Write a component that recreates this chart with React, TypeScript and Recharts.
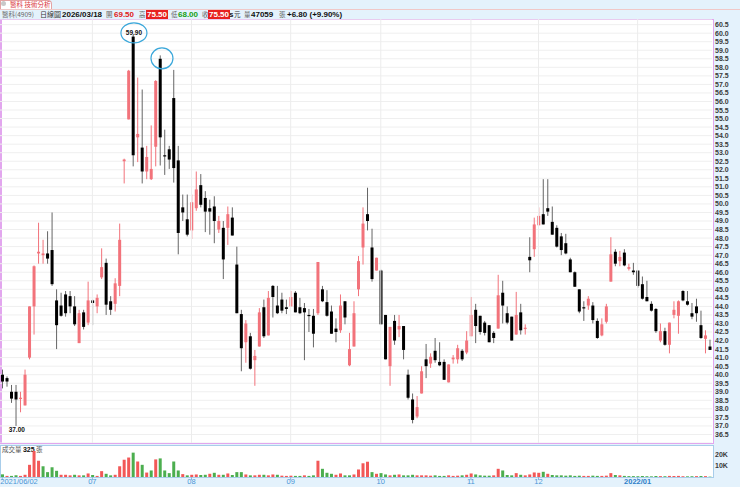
import React from 'react';
import {
  ComposedChart,
  BarChart,
  Bar,
  Cell,
  XAxis,
  YAxis,
  CartesianGrid,
  ReferenceLine,
  ReferenceDot,
} from 'recharts';

// 日線 OHLC（由圖面讀出，約略值）
const opens = [
  40.0, 39.8, 39.0, 39.0, 38.6, 38.2, 41.0, 44.0, 47.1, 47.0,
  47.1, 47.3, 44.35, 44.05, 44.7, 44.6, 44.0, 41.85, 43.65, 43.05,
  44.35, 44.0, 45.7, 46.55, 44.3, 44.15, 45.2, 52.5, 54.95, 59.8,
  53.9, 53.3, 51.9, 51.45, 53.35, 58.5, 52.85, 53.2, 56.2, 52.55,
  49.8, 49.1, 48.45, 49.75, 51.1, 50.35, 49.75, 49.85, 48.5, 48.6,
  48.6, 49.2, 46.45, 43.55, 41.9, 42.25, 40.85, 41.65, 43.95, 42.3,
  45.2, 44.05, 44.4, 43.95, 44.0, 44.8, 43.95, 43.9, 43.5, 43.45,
  43.6, 45.0, 44.25, 43.7, 42.7, 42.6, 44.3, 40.55, 41.65, 45.0,
  47.45, 49.4, 47.45, 46.1, 46.1, 43.5, 40.5, 43.15, 42.65, 42.85,
  40.0, 38.55, 37.55, 38.9, 40.9, 40.65, 41.4, 40.75, 40.75, 39.55,
  40.9, 40.9, 41.4, 41.3, 42.25, 43.8, 43.45, 43.05, 42.9, 42.45,
  42.7, 44.8, 43.6, 43.4, 42.35, 43.65, 42.7, 46.9, 47.35, 48.75,
  49.4, 49.75, 48.95, 48.6, 48.1, 47.7, 46.75, 46.0, 45.0, 43.95,
  44.05, 44.05, 43.15, 42.3, 43.1, 45.45, 47.2, 46.65, 47.15, 46.2,
  46.1, 46.1, 45.3, 44.55, 44.15, 43.85, 42.0, 42.55, 41.75, 43.5,
  43.45, 44.9, 44.3, 43.6, 44.0, 42.9, 42.1, 41.65,
];
const highs = [
  40.3, 39.9, 39.4, 39.4, 39.0, 40.3, 44.0, 46.4, 48.9, 47.9,
  48.4, 49.5, 45.0, 44.8, 44.9, 44.9, 44.6, 43.8, 43.8, 45.45,
  44.4, 44.7, 47.4, 46.8, 44.6, 45.65, 48.85, 52.65, 57.85, 59.9,
  57.4, 56.7, 53.4, 54.6, 57.25, 58.7, 54.35, 53.4, 57.85, 53.4,
  50.55, 50.55, 50.55, 51.9, 51.75, 50.75, 50.25, 50.45, 49.3, 49.0,
  49.85, 49.8, 47.5, 43.8, 43.2, 42.45, 41.45, 43.9, 44.4, 44.9,
  45.25, 45.2, 44.8, 44.4, 44.9, 44.9, 44.5, 44.2, 43.85, 43.85,
  46.6, 45.2, 44.95, 44.05, 43.3, 44.7, 44.3, 42.45, 44.3, 46.95,
  49.8, 50.95, 48.55, 46.85, 46.15, 43.5, 42.8, 43.5, 43.5, 42.85,
  40.3, 38.9, 38.75, 40.5, 41.8, 41.25, 42.15, 41.9, 40.9, 40.6,
  41.15, 41.75, 41.5, 42.55, 44.55, 44.15, 43.45, 43.15, 42.9, 42.55,
  45.85, 45.5, 44.0, 43.4, 44.85, 44.15, 42.95, 48.05, 49.2, 49.8,
  51.45, 51.45, 49.85, 48.75, 48.3, 48.25, 46.85, 46.05, 45.0, 44.3,
  44.6, 44.25, 43.3, 43.3, 44.15, 48.05, 47.35, 47.25, 47.35, 46.5,
  46.55, 46.1, 45.75, 45.5, 44.3, 43.9, 43.0, 42.75, 43.05, 44.3,
  44.35, 44.95, 44.9, 44.2, 44.45, 43.75, 42.6, 42.05,
];
const lows = [
  39.2, 39.3, 38.35, 37.0, 37.8, 38.2, 40.9, 42.35, 46.5, 46.5,
  46.5, 45.2, 41.5, 43.4, 43.4, 43.6, 42.85, 41.85, 42.65, 42.9,
  42.9, 43.6, 45.6, 43.5, 43.5, 43.7, 44.6, 51.2, 54.95, 52.2,
  52.45, 51.2, 51.45, 51.4, 52.2, 52.25, 51.7, 52.05, 51.25, 47.05,
  49.0, 48.1, 47.95, 49.6, 49.8, 48.35, 48.2, 47.7, 48.3, 45.6,
  47.6, 48.15, 43.6, 40.2, 40.7, 40.3, 39.35, 41.65, 42.15, 42.3,
  43.35, 43.55, 43.6, 43.55, 44.0, 43.65, 43.55, 40.85, 42.5, 41.6,
  43.5, 44.25, 43.4, 42.4, 41.9, 42.45, 42.95, 40.5, 41.65, 44.6,
  46.45, 48.45, 45.45, 46.1, 42.95, 40.9, 39.35, 41.75, 42.2, 40.9,
  38.55, 37.15, 37.45, 38.9, 39.8, 40.4, 40.7, 40.5, 39.7, 39.55,
  40.65, 40.65, 40.8, 41.2, 42.25, 41.85, 42.35, 42.3, 41.9, 41.85,
  42.7, 43.0, 42.95, 42.0, 42.35, 42.35, 42.35, 46.0, 46.9, 48.75,
  48.8, 49.3, 48.2, 47.45, 47.0, 47.05, 46.0, 45.15, 43.6, 43.15,
  43.8, 43.0, 42.1, 42.25, 43.0, 45.45, 46.35, 46.35, 46.35, 46.1,
  45.85, 45.1, 44.4, 44.3, 43.7, 42.45, 41.9, 41.7, 41.25, 43.3,
  42.4, 44.3, 44.05, 43.25, 43.1, 42.1, 41.25, 41.45,
];
const closes = [
  39.6, 39.6, 38.6, 38.55, 38.65, 40.0, 44.0, 46.35, 47.2, 47.1,
  46.8, 45.3, 42.9, 43.45, 43.6, 44.0, 42.95, 43.6, 42.8, 44.35,
  44.2, 44.5, 46.3, 44.1, 43.8, 45.35, 47.9, 52.6, 57.8, 52.85,
  54.1, 51.9, 52.75, 52.05, 57.2, 53.9, 52.8, 52.6, 52.1, 48.3,
  49.5, 48.2, 50.1, 50.85, 49.95, 49.55, 49.55, 49.0, 49.0, 46.75,
  49.4, 48.15, 43.6, 41.55, 43.0, 40.35, 41.1, 43.65, 42.25, 44.5,
  44.55, 43.6, 43.75, 43.85, 44.55, 43.65, 43.6, 43.65, 43.45, 42.4,
  46.6, 44.3, 43.45, 42.4, 42.5, 44.05, 43.35, 41.5, 43.6, 46.65,
  48.85, 49.0, 45.6, 46.85, 42.95, 40.9, 42.8, 42.0, 42.85, 41.45,
  38.65, 37.35, 38.1, 40.2, 40.5, 41.05, 40.85, 40.55, 39.7, 40.6,
  41.0, 41.55, 40.9, 42.0, 43.5, 42.85, 42.5, 42.45, 41.9, 42.15,
  44.65, 44.05, 43.05, 42.0, 43.5, 42.6, 42.75, 46.7, 48.8, 49.3,
  48.8, 49.55, 48.2, 47.5, 47.3, 47.1, 46.0, 45.15, 43.7, 43.9,
  44.45, 43.2, 42.15, 42.95, 44.0, 47.05, 46.5, 46.9, 46.4, 46.3,
  46.0, 45.2, 44.45, 44.3, 43.75, 42.55, 42.55, 41.75, 43.05, 43.8,
  44.3, 44.35, 44.1, 43.4, 43.6, 42.15, 42.3, 41.45,
];
// 成交量（張）
const volumes = [
  2400, 1000, 1000, 1500, 1000, 2000, 11000, 23500, 14700, 9700,
  4400, 8800, 5600, 2000, 2000, 1500, 2000, 1500, 1500, 3200,
  1800, 1000, 5300, 2900, 1500, 2000, 9700, 15600, 17600, 22000,
  14000, 11000, 4000, 5900, 15900, 16800, 5900, 3500, 14000, 5900,
  2600, 1500, 2000, 2300, 1800, 2000, 2900, 3800, 2000, 2000,
  3200, 1800, 4400, 4400, 2300, 1500, 1500, 2000, 2000, 1500,
  2300, 2000, 1200, 1000, 1200, 1000, 1000, 1500, 1000, 1500,
  14700, 7400, 3800, 2900, 2000, 3200, 1500, 1500, 2300, 6800,
  12400, 13800, 4400, 2900, 3500, 2300, 1500, 2000, 2300, 1500,
  1500, 2000, 1500, 1500, 1500, 1200, 1500, 1000, 1000, 1500,
  1000, 1200, 1500, 2000, 3200, 2300, 1500, 1200, 1200, 1500,
  7400, 5900, 1800, 1500, 3500, 2000, 1500, 2300, 4100, 3800,
  4700, 2900, 1800, 1500, 1500, 1200, 1500, 1000, 1200, 1000,
  1000, 1200, 1000, 1000, 1200, 3500, 1800, 1500, 1000, 800,
  800, 700, 900, 700, 600, 900, 800, 700, 1000, 900,
  1000, 700, 600, 700, 800, 900, 800, 325,
];

const monthTicks = [0, 20, 42, 64, 84, 104, 119, 141];
const monthLabels = ['2021/06/02', '07', '08', '09', '10', '11', '12', '2022/01'];

const priceTicks = [
  36.5, 37.0, 37.5, 38.0, 38.5, 39.0, 39.5, 40.0, 40.5, 41.0,
  41.5, 42.0, 42.5, 43.0, 43.5, 44.0, 44.5, 45.0, 45.5, 46.0,
  46.5, 47.0, 47.5, 48.0, 48.5, 49.0, 49.5, 50.0, 50.5, 51.0,
  51.5, 52.0, 52.5, 53.0, 53.5, 54.0, 54.5, 55.0, 55.5, 56.0,
  56.5, 57.0, 57.5, 58.0, 58.5, 59.0, 59.5, 60.0, 60.5,
];
const volTicks = [10000, 20000];

const RED = '#f2737b';
const VOL_RED = '#f25858';
const VOL_GREEN = '#4cae4f';
const BG = '#e4f2fc';
const NUM_FONT = '"Liberation Sans", Arial, sans-serif';
const CJK_FONT = '"Noto Sans CJK TC", "Noto Sans", sans-serif';

const rows = opens.map((o, i) => ({
  i,
  open: o,
  high: highs[i],
  low: lows[i],
  close: closes[i],
  vol: volumes[i],
  volUp: i === 0 ? closes[0] >= o : closes[i] >= closes[i - 1],
}));

const Candle = (props: any) => {
  const { x, y, width, height, payload } = props;
  if (x == null || y == null) return null;
  const top = Math.min(y, y + height);
  const h = Math.abs(height);
  const range = payload.high - payload.low;
  const k = range > 0 ? h / range : 0;
  const yo = top + (payload.high - payload.open) * k;
  const yc = top + (payload.high - payload.close) * k;
  const up = payload.close >= payload.open;
  const cx = x + width / 2;
  const bodyTop = Math.min(yo, yc);
  const bodyH = Math.max(1.2, Math.abs(yc - yo));
  return (
    <g>
      <rect x={cx - 0.5} y={top} width={1} height={Math.max(1, h)} fill={up ? RED : '#666'} />
      <rect x={x} y={bodyTop} width={width} height={bodyH} fill={up ? RED : '#000'} />
    </g>
  );
};

const HighMark = (props: any) => {
  const { cx, cy } = props;
  return (
    <g>
      <ellipse cx={cx + 1} cy={cy - 2} rx={13} ry={10} fill="none" stroke="#3aa7da" strokeWidth={1.2} />
      <text x={cx + 1} y={cy + 0.5} textAnchor="middle" fontSize={6.5} fontWeight={700} fill="#111" fontFamily={NUM_FONT}>
        {highs[29].toFixed(2)}
      </text>
    </g>
  );
};

const SecondMark = (props: any) => {
  const { cx, cy } = props;
  return <ellipse cx={cx + 2} cy={cy + 3} rx={11} ry={10.5} fill="none" stroke="#3aa7da" strokeWidth={1.2} />;
};

const LowMark = (props: any) => {
  const { cx, cy } = props;
  return (
    <text x={cx + 1} y={cy + 6} textAnchor="middle" fontSize={6.5} fontWeight={700} fill="#111" fontFamily={NUM_FONT}>
      {lows[3].toFixed(2)}
    </text>
  );
};

const MonthTick = (props: any) => {
  const { x, y, payload, index } = props;
  const k = monthTicks.indexOf(payload.value);
  const label = monthLabels[k] ?? '';
  const first = index === 0;
  const last = label === '2022/01';
  return (
    <text
      x={first ? x - 2 : x}
      y={y + 1.5}
      textAnchor={first ? 'start' : 'middle'}
      fontSize={7.5}
      fontWeight={last ? 700 : 400}
      fill={last ? '#2f7fc8' : '#4a95d6'}
      fontFamily={NUM_FONT}
    >
      {label}
    </text>
  );
};

const hdr: React.CSSProperties = { position: 'absolute', top: 10, fontSize: 7.5, lineHeight: '9px', whiteSpace: 'nowrap' };

export default function App() {
  return (
    <div style={{ position: 'absolute', left: 0, top: 0, width: 740, height: 487, background: BG, overflow: 'hidden', fontFamily: NUM_FONT }}>
      {/* tab */}
      <div style={{ position: 'absolute', left: 0, top: 0, width: 50, height: 8, background: '#fff', border: '1px solid #e3a4a4', borderBottom: 'none', borderTopRightRadius: 4 }} />
      <div style={{ position: 'absolute', left: 1, top: 1, width: 5, height: 5, borderRadius: 3, background: '#c8c8c8' }} />
      <div style={{ position: 'absolute', left: 10, top: 0, fontSize: 6.5, lineHeight: '9px', color: '#d9323a', fontFamily: CJK_FONT }}>醫科 技術分析</div>
      <div style={{ position: 'absolute', left: 0, top: 9, width: 740, height: 1, background: '#f0c8c8' }} />

      {/* header row */}
      <div style={{ ...hdr, left: 2, color: '#666', fontFamily: CJK_FONT, fontSize: 6.5 }}>醫科(4909)</div>
      <div style={{ ...hdr, left: 40, color: '#333', fontFamily: CJK_FONT, fontSize: 7 }}>日線圖</div>
      <div style={{ ...hdr, left: 62, fontWeight: 700, color: '#111', fontSize: 8 }}>2026/03/18</div>
      <div style={{ ...hdr, left: 106, color: '#666', fontFamily: CJK_FONT, fontSize: 6.5 }}>開</div>
      <div style={{ ...hdr, left: 114, fontWeight: 700, color: '#e02020', fontSize: 8 }}>69.50</div>
      <div style={{ ...hdr, left: 139, color: '#666', fontFamily: CJK_FONT, fontSize: 6.5 }}>高</div>
      <div style={{ ...hdr, left: 146, fontWeight: 700, color: '#fff', background: '#e82020', fontSize: 8, padding: '0 1px' }}>75.50</div>
      <div style={{ ...hdr, left: 171, color: '#666', fontFamily: CJK_FONT, fontSize: 6.5 }}>低</div>
      <div style={{ ...hdr, left: 178, fontWeight: 700, color: '#13a013', fontSize: 8 }}>68.00</div>
      <div style={{ ...hdr, left: 202, color: '#666', fontFamily: CJK_FONT, fontSize: 6.5 }}>收</div>
      <div style={{ ...hdr, left: 208, fontWeight: 700, color: '#fff', background: '#e82020', fontSize: 8, padding: '0 1px' }}>75.50</div>
      <div style={{ ...hdr, left: 229, fontWeight: 700, color: '#111', fontSize: 8 }}>s</div>
      <div style={{ ...hdr, left: 234, color: '#333', fontFamily: CJK_FONT, fontSize: 6.5 }}>元</div>
      <div style={{ ...hdr, left: 244, color: '#666', fontFamily: CJK_FONT, fontSize: 6.5 }}>量</div>
      <div style={{ ...hdr, left: 251, fontWeight: 700, color: '#111', fontSize: 8 }}>47059</div>
      <div style={{ ...hdr, left: 279, color: '#666', fontFamily: CJK_FONT, fontSize: 6.5 }}>張</div>
      <div style={{ ...hdr, left: 287, fontWeight: 700, color: '#111', fontSize: 8 }}>+6.80 (+9.90%)</div>

      {/* price panel */}
      <div style={{ position: 'absolute', left: 0, top: 19, width: 714, height: 425, boxSizing: 'border-box', background: '#fff', border: '1px solid #e2a6ee', borderLeftWidth: 2 }} />
      <div style={{ position: 'absolute', left: 0, top: 19 }}>
        <ComposedChart width={740} height={424} data={rows} margin={{ top: 0, right: 0, bottom: 0, left: 0 }} barSize={3}>
          <CartesianGrid vertical={false} stroke="#efefef" />
          <XAxis dataKey="i" type="category" hide />
          <YAxis
            orientation="right"
            width={28}
            domain={[36.0, 60.83]}
            allowDataOverflow
            ticks={priceTicks}
            interval={0}
            axisLine={false}
            tickLine={false}
            tickSize={0}
            tickMargin={3}
            tickFormatter={(v: number) => v.toFixed(1)}
            tick={{ fontSize: 7, fontWeight: 700, fill: '#3a3a3a', fontFamily: NUM_FONT, textAnchor: 'start' }}
          />
          {monthTicks.slice(1).map((m) => (
            <ReferenceLine key={m} x={m} stroke="#ececec" />
          ))}
          <Bar dataKey={(d: any) => [d.low, d.high]} shape={<Candle />} isAnimationActive={false} />
          <ReferenceDot x={29} y={highs[29]} r={0} shape={<HighMark />} />
          <ReferenceDot x={35} y={highs[35]} r={0} shape={<SecondMark />} />
          <ReferenceDot x={3} y={lows[3]} r={0} shape={<LowMark />} />
        </ComposedChart>
      </div>

      {/* volume panel */}
      <div style={{ position: 'absolute', left: 0, top: 445, width: 714, height: 33, boxSizing: 'border-box', background: '#fff', border: '1px solid #a8cdea' }} />
      <div style={{ position: 'absolute', left: 2, top: 445, fontSize: 6.5, lineHeight: '9px', whiteSpace: 'nowrap' }}>
        <span style={{ fontFamily: CJK_FONT, color: '#555' }}>成交量 </span>
        <span style={{ fontWeight: 700, color: '#111', fontSize: 7 }}>{volumes[volumes.length - 1]}</span>
        <span style={{ fontFamily: CJK_FONT, color: '#555' }}> 張</span>
      </div>
      <div style={{ position: 'absolute', left: 0, top: 446 }}>
        <BarChart width={740} height={41} data={rows} margin={{ top: 0, right: 0, bottom: 0, left: 0 }} barSize={3}>
          <XAxis
            dataKey="i"
            type="category"
            ticks={monthTicks}
            interval={0}
            axisLine={false}
            tickSize={3}
            tickLine={{ stroke: '#8ab8de' }}
            tick={<MonthTick />}
            height={10}
          />
          <YAxis
            orientation="right"
            width={28}
            domain={[0, 28000]}
            allowDataOverflow
            ticks={volTicks}
            interval={0}
            axisLine={false}
            tickLine={false}
            tickSize={0}
            tickMargin={3}
            tickFormatter={(v: number) => `${v / 1000}K`}
            tick={{ fontSize: 7, fontWeight: 700, fill: '#3a3a3a', fontFamily: NUM_FONT, textAnchor: 'start' }}
          />
          <Bar dataKey="vol" isAnimationActive={false}>
            {rows.map((r) => (
              <Cell key={r.i} fill={r.volUp ? VOL_RED : VOL_GREEN} />
            ))}
          </Bar>
        </BarChart>
      </div>
    </div>
  );
}
